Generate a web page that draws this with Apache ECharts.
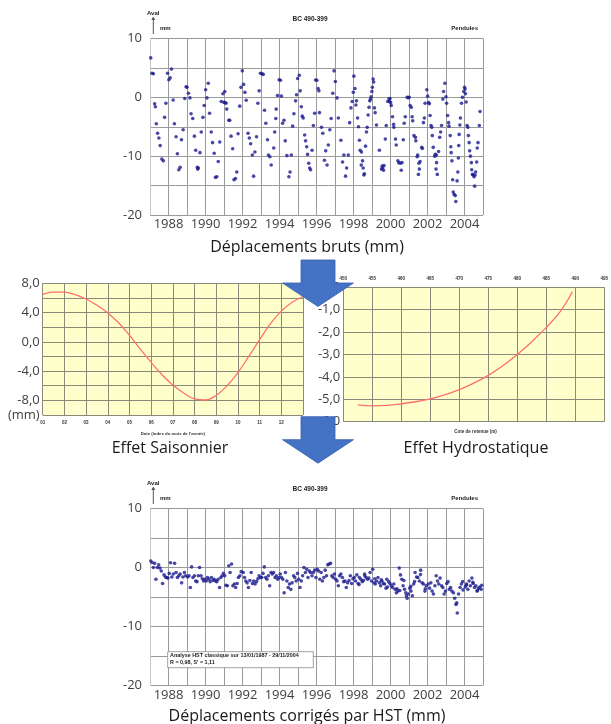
<!DOCTYPE html>
<html><head><meta charset="utf-8">
<script src="https://cdn.jsdelivr.net/npm/echarts@6/dist/echarts.min.js"></script>
<style>html,body{margin:0;padding:0;background:#fff}#c{width:611px;height:724px}</style>
</head><body><div id="c"></div>
<script>
// ---------- DATA ----------
// Raw displacements (decimal year, mm)
const rawPoints = [
[1987.04,6.7],[1987.11,4.1],[1987.18,4.0],[1987.25,-1.1],[1987.29,-1.6],[1987.34,-4.5],[1987.41,-6.1],[1987.48,-6.9],[1987.55,-8.2],[1987.64,-10.5],[1987.72,-10.8],[1987.79,-3.4],[1987.86,-1.0],[1987.95,4.1],
[1988.02,3.0],[1988.09,3.3],[1988.16,4.8],[1988.25,-0.45],[1988.32,-4.5],[1988.41,-6.7],[1988.48,-9.6],[1988.56,-12.3],[1988.63,-11.9],[1988.70,-7.2],[1988.79,-5.5],[1988.88,-0.2],[1988.95,1.8],
[1989.00,1.7],[1989.08,0.7],[1989.16,-0.1],[1989.22,-2.8],[1989.31,-3.6],[1989.40,-6.6],[1989.47,-9.0],[1989.56,-11.9],[1989.58,-12.2],[1989.61,-12.0],[1989.70,-9.4],[1989.77,-5.9],[1989.86,-3.4],[1989.93,-1.4],
[1990.01,1.3],[1990.08,-0.1],[1990.15,2.4],[1990.22,-2.7],[1990.31,-5.9],[1990.38,-7.7],[1990.47,-9.5],[1990.54,-13.6],[1990.61,-13.5],[1990.69,-10.9],[1990.77,-7.6],[1990.85,-0.7],[1990.94,0.6],
[1990.99,-0.85],[1991.04,1.0],[1991.06,-0.9],[1991.11,-1.0],[1991.15,-2.0],[1991.26,-3.9],[1991.31,-3.9],[1991.38,-6.6],[1991.47,-8.75],[1991.54,-14.0],[1991.62,-13.8],[1991.69,-12.7],[1991.76,-6.2],[1991.85,-1.5],[1991.92,1.7],
[1991.99,4.5],[1992.06,2.2],[1992.13,0.85],[1992.20,-0.5],[1992.30,-6.1],[1992.37,-6.9],[1992.44,-7.9],[1992.53,-9.8],[1992.60,-13.4],[1992.67,-9.3],[1992.76,-6.7],[1992.83,-1.0],[1992.90,1.1],[1992.97,4.1],
[1993.05,4.0],[1993.12,3.9],[1993.19,-2.2],[1993.26,-4.4],[1993.35,-7.2],[1993.40,-9.8],[1993.48,-10.1],[1993.55,-11.5],[1993.69,-8.6],[1993.74,-5.9],[1993.80,-3.6],[1993.82,-2.0],[1993.89,0.3],[1993.98,3.0],
[1994.05,2.9],[1994.10,0.2],[1994.17,-4.4],[1994.24,-3.9],[1994.31,-7.4],[1994.40,-9.9],[1994.51,-13.5],[1994.57,-12.7],[1994.64,-9.8],[1994.71,-4.9],[1994.78,-2.8],[1994.87,-0.6],[1994.92,0.45],[1994.98,3.2],
[1995.07,3.75],[1995.12,1.1],[1995.18,-1.6],[1995.23,-3.2],[1995.28,-3.5],[1995.36,-6.4],[1995.41,-7.4],[1995.47,-8.4],[1995.52,-9.7],[1995.58,-11.2],[1995.63,-12.0],[1995.68,-12.3],[1995.76,-9.0],[1995.83,-4.8],[1995.90,-2.7],[1995.95,2.95],
[1996.02,2.9],[1996.09,1.5],[1996.13,1.1],[1996.16,-2.6],[1996.27,-5.1],[1996.34,-6.1],[1996.43,-10.7],[1996.50,-9.1],[1996.57,-11.5],[1996.64,-8.1],[1996.72,-5.5],[1996.79,-3.6],[1996.88,0.7],[1996.95,4.5],
[1997.02,2.7],[1997.11,-0.1],[1997.18,-3.5],[1997.32,-7.3],[1997.41,-11.0],[1997.48,-9.8],[1997.57,-13.4],[1997.63,-12.0],[1997.72,-9.8],[1997.79,-4.3],[1997.86,-1.8],[1997.93,-0.7],[1997.99,0.85],
[1998.02,3.6],[1998.08,1.5],[1998.13,-1.3],[1998.16,-0.6],[1998.22,-3.5],[1998.27,-5.0],[1998.32,-7.3],[1998.36,-9.0],[1998.42,-11.5],[1998.43,-9.3],[1998.49,-10.8],[1998.52,-12.0],[1998.56,-13.2],[1998.59,-13.0],[1998.65,-8.3],[1998.70,-5.9],[1998.74,-5.1],[1998.79,-3.0],[1998.84,-1.7],[1998.88,-0.6],[1998.92,-0.3],[1998.95,0.1],[1998.99,1.0],
[1999.02,1.7],[1999.06,3.1],[1999.09,2.6],[1999.13,-1.8],[1999.17,-2.6],[1999.24,-4.7],[1999.40,-9.0],[1999.51,-12.2],[1999.55,-11.7],[1999.58,-12.0],[1999.62,-12.4],[1999.65,-11.6],[1999.72,-7.1],[1999.77,-4.8],[1999.85,-0.7],[1999.92,-0.3],[1999.95,-0.7],[1999.97,-0.2],
[2000.01,-0.9],[2000.04,-1.4],[2000.11,-3.3],[2000.17,-4.6],[2000.18,-5.1],[2000.27,-7.1],[2000.31,-8.1],[2000.40,-10.8],[2000.45,-11.1],[2000.53,-11.2],[2000.58,-12.4],[2000.62,-11.1],[2000.69,-7.2],[2000.74,-4.4],[2000.80,-3.3],[2000.90,0.0],[2000.96,-0.05],
[2001.01,0.0],[2001.06,-1.4],[2001.12,-1.7],[2001.17,-3.3],[2001.20,-4.0],[2001.27,-6.5],[2001.35,-6.8],[2001.37,-7.4],[2001.44,-10.1],[2001.47,-9.8],[2001.51,-13.1],[2001.54,-11.2],[2001.56,-12.2],[2001.60,-10.9],[2001.69,-8.5],[2001.72,-8.7],[2001.78,-4.3],[2001.83,-3.5],[2001.87,-1.0],
[2001.96,1.3],[2002.01,0.2],[2002.06,-0.9],[2002.10,-1.1],[2002.14,-3.1],[2002.19,-4.8],[2002.23,-5.1],[2002.26,-6.5],[2002.31,-8.5],[2002.39,-10.0],[2002.42,-9.7],[2002.46,-12.2],[2002.48,-9.8],[2002.49,-11.1],[2002.53,-13.1],[2002.60,-9.2],[2002.66,-6.8],[2002.71,-5.9],[2002.76,-4.8],[2002.83,-0.3],[2002.87,1.0],[2002.94,2.4],[2003.00,0.1],
[2003.03,-1.0],[2003.09,-3.1],[2003.14,-4.3],[2003.16,-4.9],[2003.23,-6.5],[2003.26,-8.4],[2003.28,-9.4],[2003.32,-10.8],[2003.36,-14.0],[2003.39,-16.1],[2003.44,-16.5],[2003.50,-16.7],[2003.53,-17.7],[2003.60,-14.2],[2003.64,-12.7],[2003.67,-10.3],[2003.69,-8.2],[2003.71,-6.3],[2003.75,-4.7],[2003.78,-3.5],[2003.84,-1.0],[2003.89,0.0],[2003.96,1.0],
[2004.00,1.7],[2004.03,1.4],[2004.05,0.6],[2004.09,-0.8],[2004.14,-4.8],[2004.18,-5.1],[2004.21,-6.5],[2004.25,-7.7],[2004.28,-9.1],[2004.32,-10.0],[2004.37,-11.1],[2004.39,-12.3],[2004.43,-13.1],[2004.46,-13.2],[2004.52,-13.5],[2004.55,-15.1],[2004.57,-13.2],[2004.60,-12.7],[2004.66,-11.0],[2004.69,-8.6],[2004.73,-7.7],[2004.80,-4.8],[2004.84,-2.4]
];

// Displacements corrected by HST (decimal year, mm)
const correctedPoints = [
[1987.04,1.1],[1987.11,0.85],[1987.18,0],[1987.25,0.7],[1987.32,-2.0],[1987.40,0],[1987.47,0.45],[1987.54,-0.1],[1987.61,-0.6],[1987.68,-2.7],[1987.76,-1.25],[1987.83,-1.6],[1987.90,-1.7],[1987.97,-1.8],
[1988.04,-1.0],[1988.11,0.8],[1988.18,-1.6],[1988.26,-1.1],[1988.33,0.7],[1988.41,-0.85],[1988.48,-1.7],[1988.56,-1.4],[1988.63,-1.1],[1988.71,-2.6],[1988.78,-1.6],[1988.86,-0.85],[1988.93,-1.4],
[1989.04,-1.6],[1989.11,-1.4],[1989.18,-3.4],[1989.25,0.1],[1989.32,-1.7],[1989.40,-1.4],[1989.47,-2.3],[1989.54,-2.4],[1989.61,-1.4],[1989.68,0],[1989.76,-1.4],[1989.83,-1.9],[1989.90,-2.3],[1989.97,-2.0],
[1990.04,-2.3],[1990.11,-1.7],[1990.18,-2.0],[1990.25,-2.4],[1990.32,-1.7],[1990.40,-2.2],[1990.47,-2.0],[1990.54,-2.3],[1990.61,-2.4],[1990.68,-2.0],[1990.76,-3.4],[1990.83,-1.7],[1990.90,-1.4],[1990.97,-1.0],
[1991.04,-1.4],[1991.11,-3.0],[1991.18,-3.1],[1991.26,0.3],[1991.33,-0.85],[1991.41,0.6],[1991.48,-3.1],[1991.56,-2.8],[1991.63,-3.4],[1991.71,-2.7],[1991.78,-1.7],[1991.86,-1.4],[1991.93,-0.7],
[1992.04,-0.85],[1992.11,-1.7],[1992.18,-2.3],[1992.25,-2.6],[1992.32,-3.4],[1992.40,-2.2],[1992.47,-0.85],[1992.54,-2.7],[1992.61,-2.3],[1992.68,-2.8],[1992.76,-2.4],[1992.83,-1.9],[1992.90,-1.4],[1992.97,-1.7],
[1993.04,-1.7],[1993.11,-1.0],[1993.18,0.1],[1993.25,-1.7],[1993.32,-2.0],[1993.40,-1.4],[1993.47,-3.1],[1993.54,-0.85],[1993.61,-1.1],[1993.68,-0.85],[1993.76,-1.7],[1993.83,-1.4],[1993.90,-2.0],[1993.97,-1.7],
[1994.04,-1.1],[1994.11,-1.7],[1994.18,-2.0],[1994.25,-4.3],[1994.32,-0.85],[1994.40,-2.3],[1994.47,-3.4],[1994.54,-2.8],[1994.61,-3.7],[1994.68,-2.6],[1994.76,-1.4],[1994.83,-1.7],[1994.90,-2.3],[1994.97,-1.0],
[1995.04,-2.0],[1995.11,-3.4],[1995.18,-2.3],[1995.25,-1.4],[1995.32,0],[1995.40,-0.85],[1995.47,-0.3],[1995.54,-1.7],[1995.61,-0.6],[1995.68,-0.85],[1995.76,-1.4],[1995.83,-0.85],[1995.90,-0.45],[1995.97,-1.7],
[1996.04,-0.3],[1996.11,-0.6],[1996.18,-2.0],[1996.25,-0.85],[1996.32,-2.3],[1996.40,-1.7],[1996.47,-0.45],[1996.54,-1.4],[1996.61,0.45],[1996.68,0.6],[1996.76,0.7],[1996.83,-1.4],[1996.90,-1.7],[1996.97,-1.1],
[1997.04,-2.0],[1997.11,-2.3],[1997.18,-3.1],[1997.25,-1.4],[1997.32,-1.1],[1997.40,-1.7],[1997.47,-2.4],[1997.54,-2.3],[1997.61,-3.4],[1997.68,-2.6],[1997.76,-2.2],[1997.83,-1.4],[1997.90,-2.7],[1997.97,-1.9],
[1998.04,-1.7],[1998.11,-2.3],[1998.18,-1.25],[1998.25,-2.7],[1998.30,-2.9],[1998.32,-1.7],[1998.40,-2.0],[1998.47,-2.4],[1998.54,-2.2],[1998.60,-1.1],[1998.61,-1.4],[1998.68,-1.7],[1998.76,-2.0],[1998.83,-1.8],[1998.90,-0.85],[1998.97,-2.3],
[1999.04,-0.3],[1999.11,-2.6],[1999.15,-1.9],[1999.18,-2.8],[1999.25,-2.3],[1999.32,-1.7],[1999.40,-2.6],[1999.47,-3.1],[1999.50,-2.1],[1999.54,-2.3],[1999.61,-2.7],[1999.68,-2.8],[1999.76,-3.5],[1999.80,-2.0],[1999.83,-3.3],[1999.90,-2.4],[1999.97,-2.7],
[2000.04,-3.1],[2000.11,-3.4],[2000.18,-2.8],[2000.25,-3.7],[2000.32,-4.3],[2000.35,-3.6],[2000.40,-4.0],[2000.47,-0.1],[2000.50,-3.9],[2000.54,-1.25],[2000.61,-2.0],[2000.68,-3.1],[2000.72,-2.2],[2000.76,-3.7],[2000.83,-4.3],[2000.86,-4.8],[2000.90,-5.2],[2000.97,-4.5],
[2001.04,-3.5],[2001.10,-3.2],[2001.11,-4.0],[2001.18,-4.8],[2001.25,-2.8],[2001.30,-2.4],[2001.33,-0.85],[2001.41,-1.6],[2001.48,-1.7],[2001.56,-2.3],[2001.62,-1.2],[2001.63,-0.45],[2001.71,-2.6],[2001.78,-2.8],[2001.86,-4.0],[2001.88,-3.6],[2001.93,-3.1],
[2002.04,-2.8],[2002.11,-3.5],[2002.18,-2.6],[2002.25,-4.0],[2002.32,-4.5],[2002.40,-3.1],[2002.47,-1.4],[2002.54,-2.3],[2002.61,-2.8],[2002.68,-1.8],[2002.76,-3.1],[2002.83,-3.4],[2002.90,-4.5],[2002.97,-4.0],
[2003.04,-2.7],[2003.11,-2.4],[2003.18,-3.7],[2003.25,-3.4],[2003.32,-4.0],[2003.40,-4.3],[2003.47,-5.2],[2003.54,-6.25],[2003.58,-6.0],[2003.61,-7.7],[2003.68,-4.5],[2003.76,-3.4],[2003.83,-2.8],[2003.90,-2.4],[2003.92,-3.8],
[2004.04,-3.3],[2004.10,-3.0],[2004.11,-2.8],[2004.18,-3.7],[2004.25,-2.3],[2004.32,-3.1],[2004.40,-1.8],[2004.45,-2.5],[2004.47,-2.7],[2004.54,-3.4],[2004.61,-3.1],[2004.68,-4.0],[2004.70,-3.9],[2004.76,-3.5],[2004.83,-3.3],[2004.90,-3.7],[2004.93,-3.0]
];

// Seasonal effect: month index vs mm
const seasonMonths = [1,1.5,2,2.5,3,3.5,4,4.5,5,5.5,6,6.5,7,7.5,8,8.5,9,9.5,10,10.5,11,11.5,12,12.5,13];
const seasonValues = [6.5,6.8,6.8,6.45,5.85,5.0,3.95,2.6,0.9,-1.0,-2.8,-4.5,-5.9,-7.0,-7.8,-7.95,-7.3,-6.0,-4.2,-2.0,0.3,2.5,4.2,5.4,6.2];

// Hydrostatic effect: reservoir level (m) vs mm
const hydroLevels = [452.5,455,457.5,460,462.5,465,467.5,470,472.5,475,477.5,480,482.5,485,487.5,489.5];
const hydroValues = [-5.25,-5.29,-5.27,-5.2,-5.11,-4.98,-4.8,-4.57,-4.28,-3.93,-3.5,-3.0,-2.43,-1.79,-1.05,-0.2];

// Texts
const chartTitle = 'BC 490-399';
const captions = ['Déplacements bruts (mm)','Effet Saisonnier','Effet Hydrostatique','Déplacements corrigés par HST (mm)'];
const boxLines = ['Analyse HST classique sur 13/01/1987 - 29/11/2004', "R = 0,98, S' = 1,11"];

// ---------- CHART ----------
const chart = echarts.init(document.getElementById('c'), null, {renderer:'canvas'});
const numFont = 'Open Sans';
const gridGray = '#9a9a9a';
const yellowGrid = '#8a8a7a';

function scatterX(gi){
  return {gridIndex:gi,type:'value',min:1987,max:2005,interval:1,
    axisLine:{show:false},axisTick:{show:false},
    axisLabel:{formatter:v=>v%2===0?String(v):'',color:'#404040',fontFamily:numFont,fontSize:13,margin:3,hideOverlap:false},
    splitLine:{show:true,lineStyle:{color:gridGray,width:1}}};
}
function scatterY(gi){
  return {gridIndex:gi,type:'value',min:-20,max:10,interval:5,
    axisLine:{show:true,lineStyle:{color:'#c8c8c8'}},axisTick:{show:false},
    axisLabel:{formatter:v=>v%10===0?String(v):'',color:'#404040',fontFamily:numFont,fontSize:13,margin:8},
    splitLine:{show:true,lineStyle:{color:gridGray,width:1}}};
}
const comma = v => v.toFixed(1).replace('.',',');

function header(dy){
  return [
    {type:'text',left:147,top:10+dy,style:{text:'Aval',font:'bold 6px "Liberation Sans"',fill:'#222'}},
    {type:'line',shape:{x1:153.3,y1:34+dy,x2:153.3,y2:19+dy},style:{stroke:'#555',lineWidth:1}},
    {type:'polygon',shape:{points:[[151.3,20+dy],[155.3,20+dy],[153.3,16.5+dy]]},style:{fill:'#555'}},
    {type:'text',left:160,top:25+dy,style:{text:'mm',font:'bold 6px "Liberation Sans"',fill:'#222'}},
    {type:'text',x:310,y:19+dy,style:{text:chartTitle,font:'bold 6.5px "Liberation Sans"',fill:'#222',align:'center',verticalAlign:'middle'}},
    {type:'text',x:478,y:28+dy,style:{text:'Pendules',font:'bold 6px "Liberation Sans"',fill:'#222',align:'right',verticalAlign:'middle'}}
  ];
}
function arrow(y0){
  return {type:'polygon',z:100,shape:{points:[[301,y0],[335,y0],[335,y0+23],[353.5,y0+23],[318,y0+46.5],[282.5,y0+23],[301,y0+23]]},
    style:{fill:'#4472C4',stroke:'#3560ad',lineWidth:0.8}};
}
function caption(x,y,t){
  return {type:'text',x:x,y:y,style:{text:t,font:'16px "Open Sans"',fill:'#1a1a1a',align:'center',verticalAlign:'middle'}};
}

const option = {
  animation:false,
  grid:[
    {left:150,top:38.5,width:333,height:176.5,show:false},
    {left:42.7,top:283.3,width:260.3,height:131.7,show:true,backgroundColor:'#FFFFCC',borderWidth:0},
    {left:343.3,top:287.3,width:263.4,height:134.4,show:true,backgroundColor:'#FFFFCC',borderWidth:0},
    {left:150,top:508.5,width:333,height:177,show:false}
  ],
  xAxis:[
    scatterX(0),
    {gridIndex:1,type:'value',min:1,max:13,interval:1,axisLine:{show:false},axisTick:{show:false},
      axisLabel:{formatter:v=>v<13?(v<10?'0'+v:String(v)):'',color:'#333',fontFamily:'Liberation Sans',fontWeight:'bold',fontSize:4.5,margin:5},
      splitLine:{show:true,lineStyle:{color:yellowGrid,width:1}},
      name:"Date (index du mois de l'année)",nameLocation:'middle',nameGap:17,
      nameTextStyle:{fontFamily:'Liberation Sans',fontWeight:'bold',fontSize:4.3,color:'#333'}},
    {gridIndex:2,type:'value',min:450,max:495,interval:5,position:'top',axisLine:{show:false},axisTick:{show:false},
      axisLabel:{color:'#333',fontFamily:'Liberation Sans',fontWeight:'bold',fontSize:4.5,margin:6},
      splitLine:{show:true,lineStyle:{color:yellowGrid,width:1}}},
    scatterX(3)
  ],
  yAxis:[
    scatterY(0),
    {gridIndex:1,type:'value',min:-10,max:8,interval:2,axisLine:{show:false},axisTick:{show:false},
      axisLabel:{formatter:v=>v===-10?'(mm)':(v%4===0?comma(v):''),color:'#404040',fontFamily:numFont,fontSize:13,margin:3},
      splitLine:{show:true,lineStyle:{color:yellowGrid,width:1}}},
    {gridIndex:2,type:'value',min:-6,max:0,interval:1,axisLine:{show:false},axisTick:{show:false},
      axisLabel:{formatter:v=>comma(v),color:'#404040',fontFamily:numFont,fontSize:13,margin:3},
      splitLine:{show:true,lineStyle:{color:yellowGrid,width:1}}},
    scatterY(3)
  ],
  series:[
    {type:'scatter',xAxisIndex:0,yAxisIndex:0,data:rawPoints,symbol:'circle',symbolSize:3.6,itemStyle:{color:'#1c1c8e'}},
    {type:'line',xAxisIndex:1,yAxisIndex:1,data:seasonMonths.map((m,i)=>[m,seasonValues[i]]),smooth:0.4,showSymbol:false,lineStyle:{color:'#FF6F6F',width:1.3}},
    {type:'line',xAxisIndex:2,yAxisIndex:2,data:hydroLevels.map((m,i)=>[m,hydroValues[i]]),smooth:0.4,showSymbol:false,lineStyle:{color:'#FF6F6F',width:1.3}},
    {type:'scatter',xAxisIndex:3,yAxisIndex:3,data:correctedPoints,symbol:'circle',symbolSize:3.6,itemStyle:{color:'#1c1c8e'}}
  ],
  graphic:[
    ...header(0),
    ...header(470),
    caption(307,247,captions[0]),
    caption(170,448,captions[1]),
    caption(476,448,captions[2]),
    caption(307,716,captions[3]),
    {type:'text',x:475.5,y:432,style:{text:'Cote de retenue (m)',font:'bold 4.5px "Liberation Sans"',fill:'#333',align:'center',verticalAlign:'middle'}},
    {type:'rect',z:50,shape:{x:167.7,y:651.7,width:145.6,height:16},style:{fill:'#fff',stroke:'#8a8a8a',lineWidth:0.8}},
    {type:'text',z:51,left:170,top:653,style:{text:boxLines[0],font:'bold 5.4px "Liberation Sans"',fill:'#222'}},
    {type:'text',z:51,left:170,top:660.5,style:{text:boxLines[1],font:'bold 5.4px "Liberation Sans"',fill:'#222'}},
    arrow(260),
    arrow(416.7)
  ]
};
chart.setOption(option);
</script>
</body></html>
